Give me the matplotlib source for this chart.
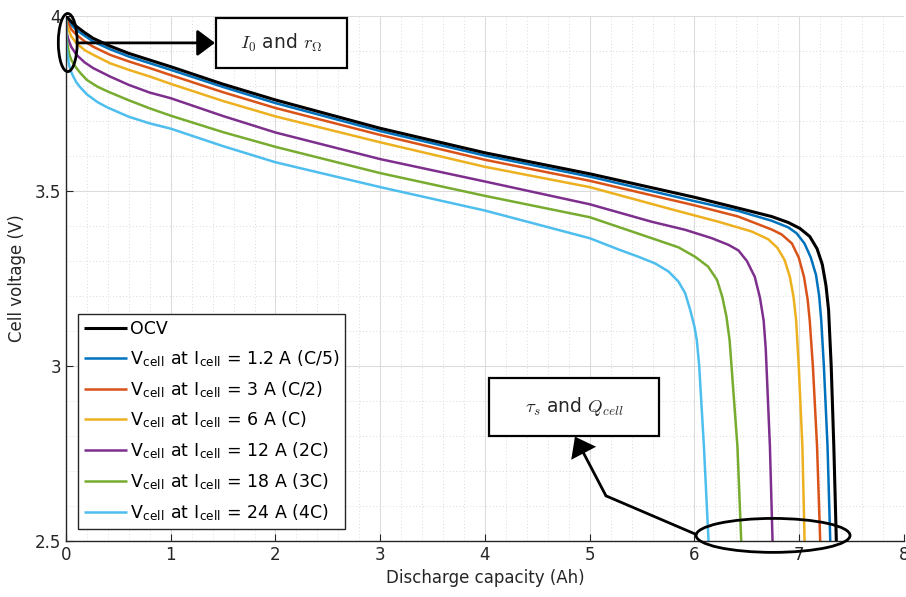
import matplotlib
matplotlib.use("Agg")
import matplotlib.pyplot as plt
from matplotlib.patches import Ellipse, Rectangle

# ---------------- data ----------------
q_ocv = [0, 0.05, 0.1, 0.18, 0.26, 0.42, 0.6, 0.8, 1.0, 1.5, 2.0, 3.0, 4.0, 5.0, 6.0,
         6.417, 6.736, 6.895, 7.006, 7.10, 7.17, 7.22, 7.255, 7.28, 7.305, 7.33, 7.354]
v_ocv = [4.0, 3.984, 3.97, 3.952, 3.936, 3.914, 3.893, 3.874, 3.855, 3.805, 3.76, 3.679, 3.609,
         3.549, 3.482, 3.451, 3.427, 3.41, 3.393, 3.37, 3.335, 3.29, 3.23, 3.16, 3.0, 2.77, 2.5]

q_c5 = [0, 0.05, 0.1, 0.18, 0.26, 0.42, 0.6, 0.8, 1.0, 1.5, 2.0, 3.0, 4.0, 5.0, 6.0,
        6.417, 6.736, 6.895, 6.975, 7.05, 7.11, 7.16, 7.19, 7.21, 7.235, 7.27, 7.296]
v_c5 = [4.0, 3.975, 3.96, 3.943, 3.927, 3.905, 3.884, 3.865, 3.846, 3.797, 3.751, 3.671, 3.601,
        3.541, 3.471, 3.443, 3.415, 3.396, 3.379, 3.35, 3.31, 3.26, 3.2, 3.13, 3.0, 2.77, 2.5]

q_c2 = [0, 0.013, 0.05, 0.1, 0.18, 0.26, 0.42, 0.6, 0.8, 1.0, 1.5, 2.0, 3.0, 4.0, 5.0, 6.0,
        6.417, 6.736, 6.831, 6.93, 6.995, 7.045, 7.08, 7.10, 7.13, 7.17, 7.2]
v_c2 = [4.0, 3.984, 3.962, 3.946, 3.927, 3.912, 3.889, 3.87, 3.851, 3.831, 3.782, 3.737, 3.66,
        3.589, 3.529, 3.459, 3.427, 3.39, 3.376, 3.35, 3.31, 3.255, 3.19, 3.13, 3.0, 2.77, 2.5]

q_1c = [0, 0.005, 0.013, 0.05, 0.1, 0.18, 0.26, 0.42, 0.6, 0.8, 1.0, 1.5, 2.0, 3.0, 4.0, 5.0,
        5.8, 6.229, 6.548, 6.704, 6.79, 6.86, 6.91, 6.945, 6.97, 6.995, 7.03, 7.051]
v_1c = [4.0, 3.98, 3.97, 3.942, 3.922, 3.902, 3.889, 3.865, 3.846, 3.827, 3.806, 3.757, 3.713,
        3.639, 3.569, 3.511, 3.446, 3.412, 3.384, 3.362, 3.338, 3.303, 3.255, 3.198, 3.131, 3.0,
        2.77, 2.5]

q_2c = [0, 0.008, 0.025, 0.05, 0.1, 0.18, 0.26, 0.42, 0.6, 0.8, 1.0, 1.5, 2.0, 3.0, 4.0, 5.0,
        5.592, 5.911, 6.166, 6.325, 6.42, 6.5, 6.575, 6.625, 6.66, 6.68, 6.72, 6.745]
v_2c = [4.0, 3.95, 3.931, 3.912, 3.889, 3.867, 3.851, 3.827, 3.803, 3.781, 3.765, 3.714, 3.667,
        3.591, 3.527, 3.462, 3.412, 3.389, 3.365, 3.346, 3.33, 3.3, 3.255, 3.195, 3.13, 3.05,
        2.77, 2.5]

q_3c = [0, 0.005, 0.013, 0.03, 0.05, 0.07, 0.1, 0.14, 0.2, 0.3, 0.4, 0.6, 0.8, 1.0, 1.5, 2.0,
        3.0, 4.0, 5.0, 5.592, 5.847, 6.006, 6.13, 6.215, 6.265, 6.305, 6.335, 6.41, 6.446]
v_3c = [4.0, 3.94, 3.922, 3.892, 3.875, 3.865, 3.851, 3.836, 3.817, 3.798, 3.784, 3.759, 3.736,
        3.715, 3.668, 3.626, 3.551, 3.486, 3.425, 3.365, 3.339, 3.312, 3.284, 3.246, 3.198, 3.141,
        3.074, 2.77, 2.5]

q_4c = [0, 0.005, 0.013, 0.03, 0.05, 0.07, 0.1, 0.14, 0.2, 0.3, 0.4, 0.6, 0.8, 1.0, 1.5, 2.0,
        3.0, 4.0, 5.0, 5.274, 5.465, 5.624, 5.752, 5.847, 5.911, 5.959, 6.0, 6.022, 6.045, 6.09,
        6.134]
v_4c = [4.0, 3.915, 3.893, 3.86, 3.84, 3.827, 3.81, 3.795, 3.776, 3.754, 3.738, 3.712, 3.693,
        3.678, 3.628, 3.582, 3.511, 3.444, 3.365, 3.333, 3.312, 3.293, 3.27, 3.241, 3.208, 3.16,
        3.112, 3.074, 3.0, 2.77, 2.5]

labels = [
    "OCV",
    r"V$_\mathregular{cell}$ at I$_\mathregular{cell}$ = 1.2 A (C/5)",
    r"V$_\mathregular{cell}$ at I$_\mathregular{cell}$ = 3 A (C/2)",
    r"V$_\mathregular{cell}$ at I$_\mathregular{cell}$ = 6 A (C)",
    r"V$_\mathregular{cell}$ at I$_\mathregular{cell}$ = 12 A (2C)",
    r"V$_\mathregular{cell}$ at I$_\mathregular{cell}$ = 18 A (3C)",
    r"V$_\mathregular{cell}$ at I$_\mathregular{cell}$ = 24 A (4C)",
]
colors = ["#000000", "#0072BD", "#D95319", "#EDB120", "#7E2F8E", "#77AC30", "#4DBEEE"]
xticks = [0, 1, 2, 3, 4, 5, 6, 7, 8]
yticks = [2.5, 3, 3.5, 4]
ytick_labels = ["2.5", "3", "3.5", "4"]

series = [(q_ocv, v_ocv), (q_c5, v_c5), (q_c2, v_c2), (q_1c, v_1c),
          (q_2c, v_2c), (q_3c, v_3c), (q_4c, v_4c)]

# ---------------- figure ----------------
plt.rcParams["font.family"] = ["DejaVu Sans"]
plt.rcParams["mathtext.fontset"] = "cm"
axis_col = "#262626"

fig = plt.figure(figsize=(9.06, 5.97), dpi=100)
ax = fig.add_axes([0.0728, 0.0938, 0.925, 0.8795])

for i, ((q, v), lab, c) in enumerate(zip(series, labels, colors)):
    ax.plot(q, v, color=c, lw=2.2 if i == 0 else 1.8, label=lab, zorder=3 if i == 0 else 2,
            solid_joinstyle="round", solid_capstyle="butt")

ax.set_xlim(0, 8)
ax.set_ylim(2.5, 4)
ax.set_xticks(xticks)
ax.set_yticks(yticks, labels=ytick_labels)
ax.set_xticks([x / 5 for x in range(0, 41)], minor=True)
ax.set_yticks([2.5 + y / 10 for y in range(0, 16)], minor=True)
ax.grid(which="major", color="#dcdcdc", lw=0.8, ls="-")
ax.grid(which="minor", color="#cfcfcf", lw=0.6, ls=(0, (1, 3)))
ax.set_axisbelow(True)
ax.tick_params(which="major", direction="in", length=5, color=axis_col,
               labelcolor=axis_col, labelsize=12)
ax.tick_params(which="minor", length=0)
for s in ["top", "right"]:
    ax.spines[s].set_visible(False)
for s in ["left", "bottom"]:
    ax.spines[s].set_color(axis_col)
    ax.spines[s].set_linewidth(1.0)

ax.set_xlabel("Discharge capacity (Ah)", fontsize=12, color=axis_col, labelpad=4)
ax.set_ylabel("Cell voltage (V)", fontsize=12, color=axis_col, labelpad=6)

leg = ax.legend(loc="lower left", bbox_to_anchor=(0.0143, 0.0228), borderaxespad=0,
                fontsize=12.5, frameon=True, fancybox=False, framealpha=1,
                edgecolor=axis_col, handlelength=2.5, handletextpad=0.15,
                labelspacing=0.57, borderpad=0.35)
leg.get_frame().set_linewidth(1.0)
for t in leg.get_texts():
    t.set_color("#000000")

# ---------------- annotations ----------------
ann_lw = 2.0
head = "-|>,head_length=0.6,head_width=0.45"
ax.add_patch(Ellipse((0.017, 3.924), 0.18, 0.166, fill=False, lw=ann_lw,
                     ec="black", clip_on=False, zorder=5))
ax.annotate("", xy=(1.422, 3.923), xytext=(0.105, 3.923),
            arrowprops=dict(arrowstyle=head, mutation_scale=18, color="black", lw=ann_lw,
                            shrinkA=0, shrinkB=0), zorder=5)
ax.add_patch(Rectangle((1.432, 3.851), 1.251, 0.142, fill=True, fc="white",
                       ec="black", lw=1.6, zorder=5, clip_on=False))
ax.text(2.06, 3.922, r"$I_0$" + " and " + r"$r_{\Omega}$", ha="center", va="center",
        fontsize=13.5, color="#262626", zorder=6)

ax.add_patch(Ellipse((6.75, 2.516), 1.47, 0.097, fill=False, lw=ann_lw,
                     ec="black", clip_on=False, zorder=5))
ax.plot([6.014, 5.155], [2.519, 2.629], color="black", lw=ann_lw, zorder=5,
        solid_capstyle="round", clip_on=False)
ax.annotate("", xy=(4.859, 2.798), xytext=(5.155, 2.629),
            arrowprops=dict(arrowstyle=head, mutation_scale=18, color="black", lw=ann_lw,
                            shrinkA=0, shrinkB=0, joinstyle="miter"), zorder=5)
ax.add_patch(Rectangle((4.041, 2.801), 1.623, 0.164, fill=True, fc="white",
                       ec="black", lw=1.6, zorder=5, clip_on=False))
ax.text(4.852, 2.883, r"$\tau_s$" + " and " + r"$Q_{cell}$", ha="center", va="center",
        fontsize=13.5, color="#262626", zorder=6)

fig.savefig("out.png", dpi=100)
